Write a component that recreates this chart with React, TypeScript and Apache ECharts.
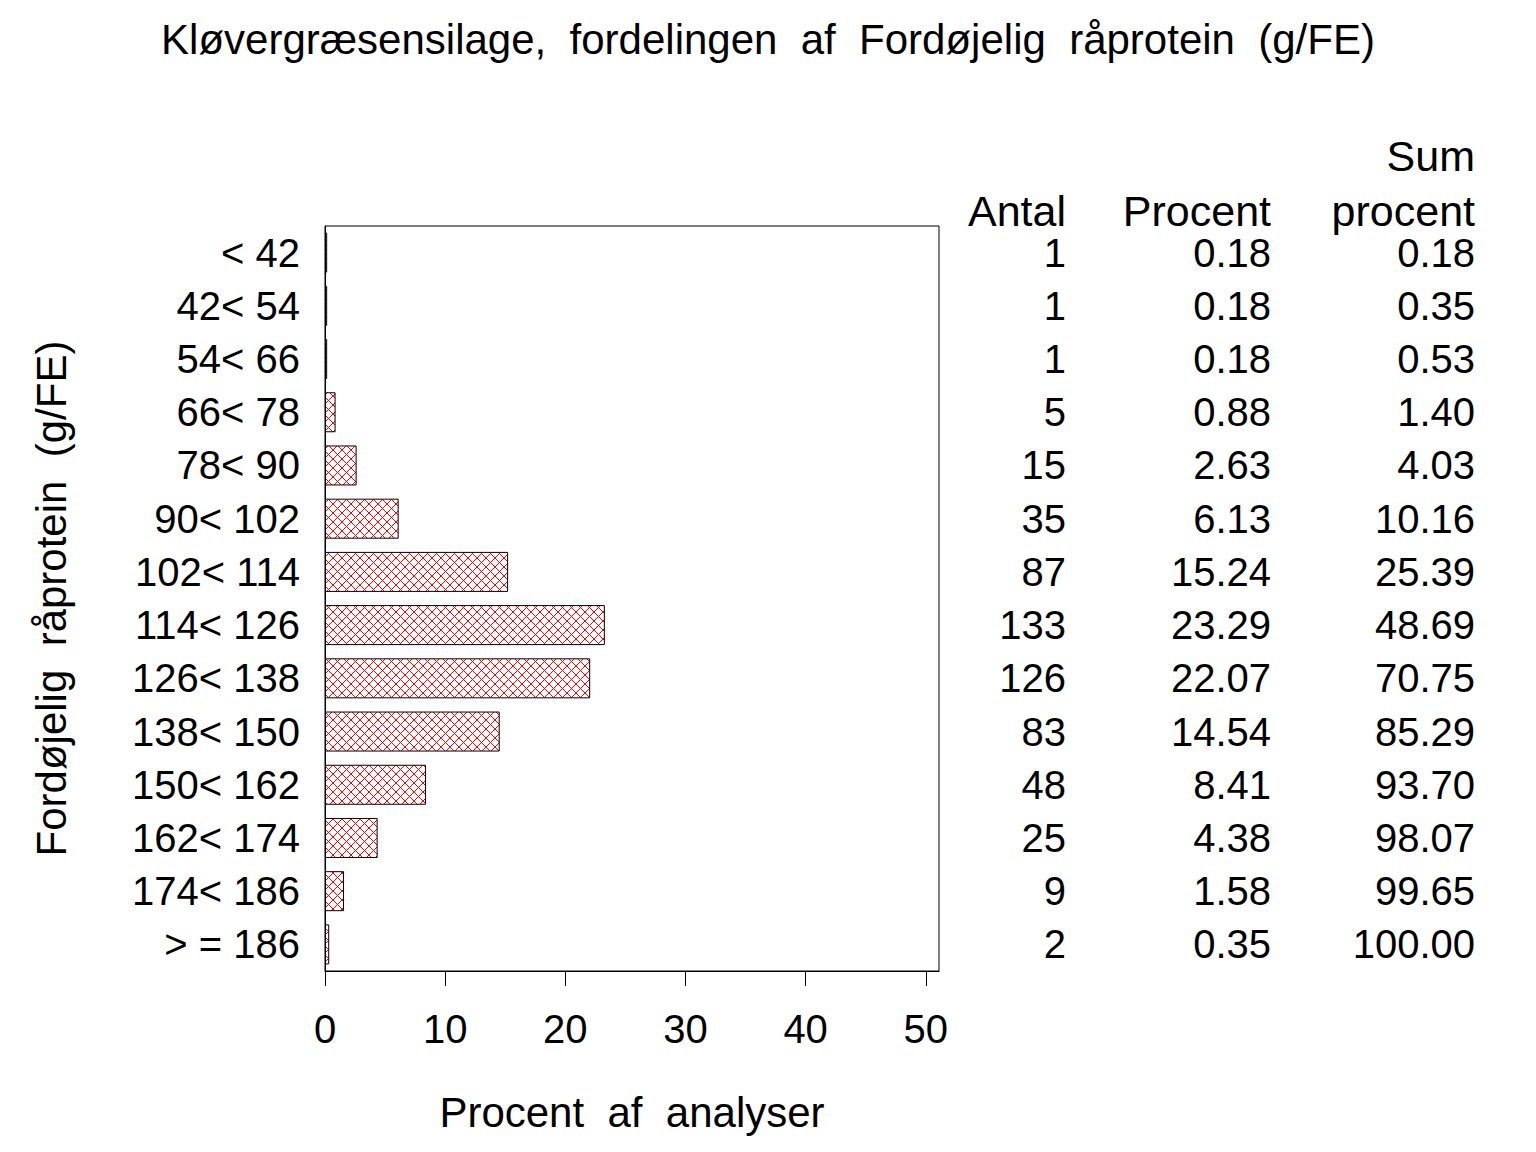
import React, { useEffect, useRef } from "react";
import * as echarts from "echarts";

const categories = ["< 42", "42< 54", "54< 66", "66< 78", "78< 90", "90< 102", "102< 114", "114< 126", "126< 138", "138< 150", "150< 162", "162< 174", "174< 186", "> = 186"];
const antal = [1, 1, 1, 5, 15, 35, 87, 133, 126, 83, 48, 25, 9, 2];
const procent = [0.18, 0.18, 0.18, 0.88, 2.63, 6.13, 15.24, 23.29, 22.07, 14.54, 8.41, 4.38, 1.58, 0.35];
const sumProcent = [0.18, 0.35, 0.53, 1.40, 4.03, 10.16, 25.39, 48.69, 70.75, 85.29, 93.70, 98.07, 99.65, 100.00];
const xTicks = [0, 10, 20, 30, 40, 50];

const FONT = "'Liberation Sans', Arial, sans-serif";

function makePattern(): HTMLCanvasElement {
  const c = document.createElement("canvas");
  const n = 9;
  c.width = n;
  c.height = n;
  const ctx = c.getContext("2d")!;
  ctx.fillStyle = "#ffffff";
  ctx.fillRect(0, 0, n, n);
  ctx.fillStyle = "#ff0000";
  for (let i = 0; i < n; i++) {
    ctx.fillRect(i, i, 1, 1);
    ctx.fillRect(n - 1 - i, i, 1, 1);
  }
  return c;
}

export default function App() {
  const ref = useRef<HTMLDivElement>(null);
  useEffect(() => {
    if (!ref.current) return;
    const chart = echarts.init(ref.current, null, { renderer: "svg" });
    const pattern = makePattern();
    const gridLeft = 325;
    const gridRight = 597;
    const plotRightX = 1536 - gridRight;
    const tableAxis = (vals: string[], rightX: number) => ({
      type: "category",
      data: vals,
      inverse: true,
      position: "right",
      axisLine: { show: false },
      axisTick: { show: false },
      axisLabel: {
        margin: rightX - plotRightX,
        align: "right",
        fontSize: 40,
        fontFamily: FONT,
        color: "#000",
      },
    });
    chart.setOption({
      animation: false,
      backgroundColor: "#ffffff",
      title: {
        text: "Kløvergræsensilage,  fordelingen  af  Fordøjelig  råprotein  (g/FE)",
        left: "center",
        top: 13,
        textStyle: { fontSize: 42, fontWeight: "normal", fontFamily: FONT, color: "#000" },
      },
      grid: {
        left: gridLeft,
        right: gridRight,
        top: 226,
        bottom: 181,
        show: true,
        borderColor: "#000",
        borderWidth: 1,
        backgroundColor: "transparent",
      },
      xAxis: {
        type: "value",
        min: 0,
        max: 51.1,
        splitLine: { show: false },
        axisLine: { show: true, lineStyle: { color: "#000", width: 1 } },
        axisTick: { show: true, length: 15, customValues: xTicks, lineStyle: { color: "#000", width: 1 } },
        axisLabel: {
          customValues: xTicks,
          margin: 38,
          fontSize: 40,
          fontFamily: FONT,
          color: "#000",
        },
        name: "Procent  af  analyser",
        nameLocation: "middle",
        nameGap: 120,
        nameTextStyle: { fontSize: 42, fontFamily: FONT, color: "#000" },
      },
      yAxis: [
        {
          type: "category",
          data: categories,
          inverse: true,
          axisLine: { show: true, lineStyle: { color: "#000", width: 1 } },
          axisTick: { show: false },
          axisLabel: { margin: 25, fontSize: 40, fontFamily: FONT, color: "#000" },
          name: "Fordøjelig  råprotein  (g/FE)",
          nameLocation: "middle",
          nameRotate: 90,
          nameGap: 253,
          nameTextStyle: { fontSize: 42, fontFamily: FONT, color: "#000" },
        },
        tableAxis(antal.map((v) => String(v)), 1066),
        tableAxis(procent.map((v) => v.toFixed(2)), 1271),
        tableAxis(sumProcent.map((v) => v.toFixed(2)), 1475),
      ],
      graphic: [
        { type: "text", right: 1536 - 1066, top: 189, style: { text: "Antal", font: `43px ${FONT}`, fill: "#000" } },
        { type: "text", right: 1536 - 1271, top: 189, style: { text: "Procent", font: `43px ${FONT}`, fill: "#000" } },
        { type: "text", right: 1536 - 1475, top: 134, style: { text: "Sum", font: `43px ${FONT}`, fill: "#000" } },
        { type: "text", right: 1536 - 1475, top: 189, style: { text: "procent", font: `43px ${FONT}`, fill: "#000" } },
      ],
      series: [
        {
          type: "bar",
          data: procent,
          barWidth: 40,
          yAxisIndex: 0,
          itemStyle: {
            color: { image: pattern, repeat: "repeat" },
            borderColor: "#000",
            borderWidth: 1,
          },
          emphasis: { disabled: true },
        },
      ],
    });
    return () => chart.dispose();
  }, []);
  return <div ref={ref} style={{ position: "fixed", left: 0, top: 0, width: 1536, height: 1152 }} />;
}
